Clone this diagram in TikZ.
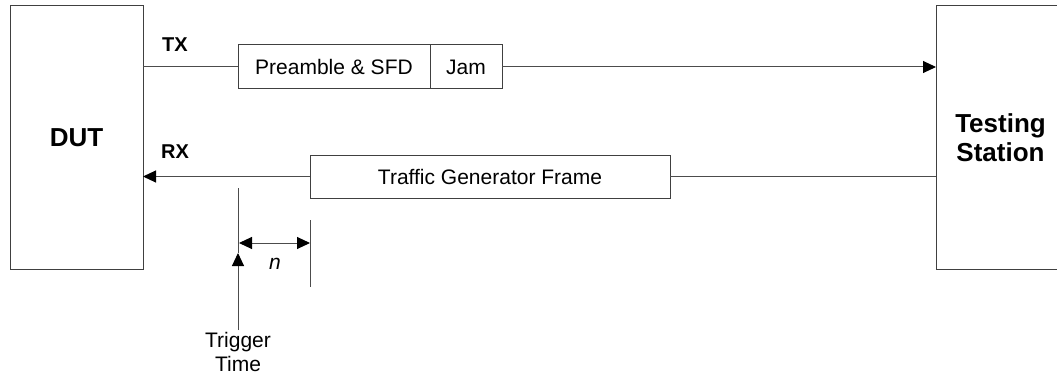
\documentclass[tikz,border=0pt]{standalone}
\usepackage{fontspec}
\setmainfont{Liberation Sans}
\usetikzlibrary{arrows.meta}
\tikzset{
  box/.style={draw=black!75, line width=1pt, inner sep=0pt, outer sep=0pt},
  wire/.style={draw=black!70, line width=1pt},
  headtip/.tip={Triangle[length=13pt,width=12pt,color=black]},
  tip/.style={-headtip},
  lbl/.style={inner sep=0pt, font=\fontsize{21}{24}\selectfont},
  blbl/.style={inner sep=0pt, font=\fontsize{20}{24}\selectfont\bfseries},
}
\begin{document}
\begin{tikzpicture}[x=1pt,y=-1pt]
\useasboundingbox (0,0) rectangle (1057,377);
\fill[white] (0,0) rectangle (1057,377);
% main boxes
\node[box, minimum width=133pt, minimum height=263pt, font=\fontsize{26}{29}\selectfont\bfseries] (DUT) at (76.5,137.5) {DUT};
\node[box, minimum width=130pt, minimum height=263pt] (TS) at (1001,137.5) {};
\node[inner sep=0pt, align=center, font=\fontsize{26}{29}\selectfont\bfseries] (TStext) at (1000.5,138) {Testing\\Station};
% frames
\node[box, minimum width=192pt, minimum height=44pt, lbl] (pre) at (334,67) {Preamble \& SFD};
\node[box, minimum width=72pt, minimum height=44pt, lbl] (jam) at (466,67) {Jam};
\node[box, minimum width=360pt, minimum height=43pt, lbl] (tgf) at (490,176.5) {Traffic Generator Frame};
% labels
\node[blbl] (tx) at (175,45) {TX};
\node[blbl] (rx) at (175,152) {RX};
% connectors
\draw[wire] (DUT.east |- pre.west) -- (pre.west);
\draw[wire, tip] (jam.east) -- (jam.east -| TS.west);
\draw[wire] (TS.west |- tgf.east) -- (tgf.east);
\draw[wire, tip] (tgf.west) -- (tgf.west -| DUT.east);
% trigger
\coordinate (trigTop) at (238,188);
\coordinate (trigTip) at (238,253);
\coordinate (trigBot) at (238,330);
\draw[wire] (trigTop) -- (trigTip);
\draw[wire, tip] (trigBot) -- (trigTip);
\node[lbl, align=center, anchor=north] (trig) at (238,332) {Trigger\\Time};
% offset n
\coordinate (offTop) at (310,220);
\coordinate (offBot) at (310,287);
\draw[wire] (offTop) -- (offBot);
\coordinate (dimL) at (239,243);
\coordinate (dimR) at (310,243);
\draw[wire, headtip-headtip] (dimL) -- (dimR);
\node[lbl, font=\fontsize{21}{24}\selectfont\itshape] (n) at (275,264) {n};
\end{tikzpicture}
\end{document}
